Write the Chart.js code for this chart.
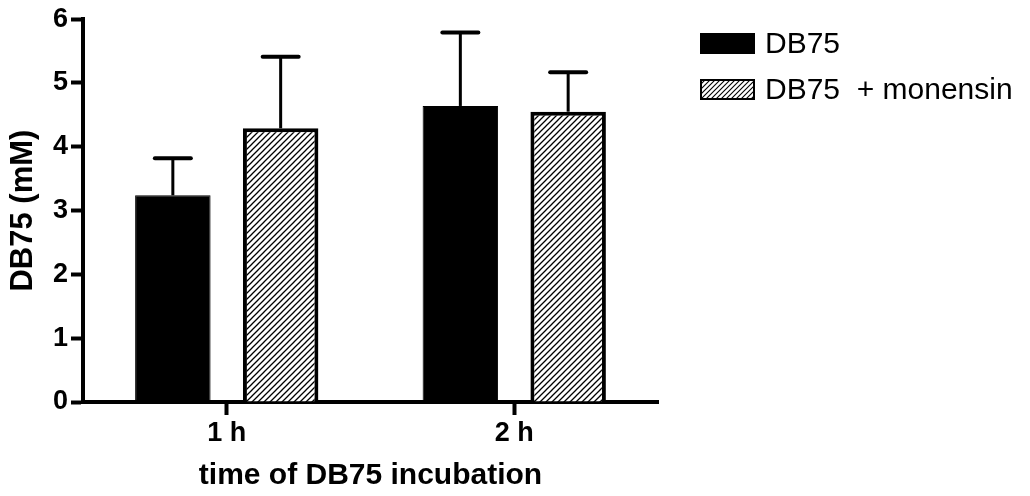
<!DOCTYPE html>
<html>
<head>
<meta charset="utf-8">
<script src="https://cdn.jsdelivr.net/npm/chart.js@4/dist/chart.umd.min.js"></script>
<style>
  html, body { margin: 0; padding: 0; background: #fff; }
  #wrap { width: 1030px; height: 496px; }
</style>
</head>
<body>
<div id="wrap"><canvas id="c" width="1030" height="496"></canvas></div>
<script>
// Incubation times on the x axis
const categories = ['1 h', '2 h'];
// Mean DB75 concentration (mM) and upper error (SEM)
const db75Mean = [3.24, 4.64];
const db75Err = [0.58, 1.15];
const monensinMean = [4.29, 4.55];
const monensinErr = [1.12, 0.62];
const seriesLabels = ['DB75', 'DB75  + monensin'];
const yMin = 0, yMax = 6, yStep = 1;

const FONT = '"Liberation Sans", Arial, Helvetica, sans-serif';

// diagonal hatch fill
function makeHatch(size, lw) {
  const c = document.createElement('canvas');
  c.width = size; c.height = size;
  const g = c.getContext('2d');
  g.fillStyle = '#fff';
  g.fillRect(0, 0, size, size);
  g.strokeStyle = '#000';
  g.lineWidth = lw;
  g.beginPath();
  g.moveTo(-1, size + 1); g.lineTo(size + 1, -1);
  g.moveTo(-1, 1); g.lineTo(1, -1);
  g.moveTo(size - 1, size + 1); g.lineTo(size + 1, size - 1);
  g.stroke();
  return g.createPattern(c, 'repeat');
}
const hatch = makeHatch(6, 1.3);
const hatchSmall = makeHatch(5, 1.1);

// upward error bars with caps
const errorBars = {
  id: 'errorBars',
  afterDatasetsDraw(chart) {
    const ctx = chart.ctx;
    const ys = chart.scales.y;
    chart.data.datasets.forEach((ds, di) => {
      const meta = chart.getDatasetMeta(di);
      meta.data.forEach((bar, i) => {
        const top = ys.getPixelForValue(ds.data[i]);
        const end = ys.getPixelForValue(ds.data[i] + ds.errors[i]);
        const x = bar.x;
        ctx.save();
        ctx.strokeStyle = '#000';
        ctx.lineWidth = 3;
        ctx.beginPath();
        ctx.moveTo(x, top);
        ctx.lineTo(x, end);
        ctx.stroke();
        ctx.lineWidth = 4;
        ctx.lineCap = 'round';
        ctx.beginPath();
        ctx.moveTo(x - 18, end);
        ctx.lineTo(x + 18, end);
        ctx.stroke();
        ctx.restore();
      });
    });
  }
};

// legend at the upper right
const sideLegend = {
  id: 'sideLegend',
  afterDraw(chart) {
    const ctx = chart.ctx;
    const boxX = 700, boxW = 55, boxH = 21;
    const rowsY = [33, 79];
    chart.data.datasets.forEach((ds, i) => {
      const y = rowsY[i];
      ctx.save();
      if (i === 0) {
        ctx.fillStyle = ds.backgroundColor;
        ctx.fillRect(boxX, y, boxW, boxH);
      } else {
        ctx.fillStyle = hatchSmall;
        ctx.fillRect(boxX, y, boxW, boxH);
        ctx.strokeStyle = '#000';
        ctx.lineWidth = 2;
        ctx.strokeRect(boxX + 1, y + 1, boxW - 2, boxH - 2);
      }
      ctx.fillStyle = '#000';
      ctx.font = '30px ' + FONT;
      ctx.textAlign = 'left';
      ctx.textBaseline = 'middle';
      ctx.fillText(ds.label, 765, y + boxH / 2 + 1);
      ctx.restore();
    });
  }
};

new Chart(document.getElementById('c'), {
  type: 'bar',
  data: {
    labels: categories,
    datasets: [
      {
        label: seriesLabels[0],
        data: db75Mean,
        errors: db75Err,
        backgroundColor: '#000',
        borderColor: '#000',
        borderWidth: 1
      },
      {
        label: seriesLabels[1],
        data: monensinMean,
        errors: monensinErr,
        backgroundColor: hatch,
        borderColor: '#000',
        borderWidth: 4
      }
    ]
  },
  options: {
    responsive: false,
    animation: false,
    events: [],
    categoryPercentage: 0.75,
    barPercentage: 0.7,
    layout: { padding: { left: 0, right: 372, top: 16, bottom: 0 } },
    plugins: {
      legend: { display: false },
      tooltip: { enabled: false }
    },
    scales: {
      x: {
        z: 1,
        offset: true,
        grid: {
          offset: false,
          drawOnChartArea: false,
          drawTicks: true,
          tickLength: 13,
          tickWidth: 4,
          tickColor: '#000'
        },
        border: { display: true, width: 4, color: '#000' },
        ticks: {
          color: '#000',
          padding: 2,
          font: { family: FONT, size: 27, weight: 'bold' }
        },
        title: {
          display: true,
          text: 'time of DB75 incubation',
          color: '#000',
          padding: { top: 0, bottom: 2 },
          font: { family: FONT, size: 30, weight: 'bold' }
        },
        afterFit(scale) { scale.height = 94; }
      },
      y: {
        z: 1,
        min: yMin,
        max: yMax,
        grid: {
          drawOnChartArea: false,
          drawTicks: true,
          tickLength: 12,
          tickWidth: 4,
          tickColor: '#000'
        },
        border: { display: true, width: 4, color: '#000' },
        ticks: {
          stepSize: yStep,
          color: '#000',
          padding: 3,
          font: { family: FONT, size: 27, weight: 'bold' }
        },
        title: {
          display: true,
          text: 'DB75 (mM)',
          color: '#000',
          padding: { top: 5, bottom: 0 },
          font: { family: FONT, size: 31, weight: 'bold' }
        },
        afterFit(scale) { scale.width = 83; }
      }
    }
  },
  plugins: [errorBars, sideLegend]
});
</script>
</body>
</html>
